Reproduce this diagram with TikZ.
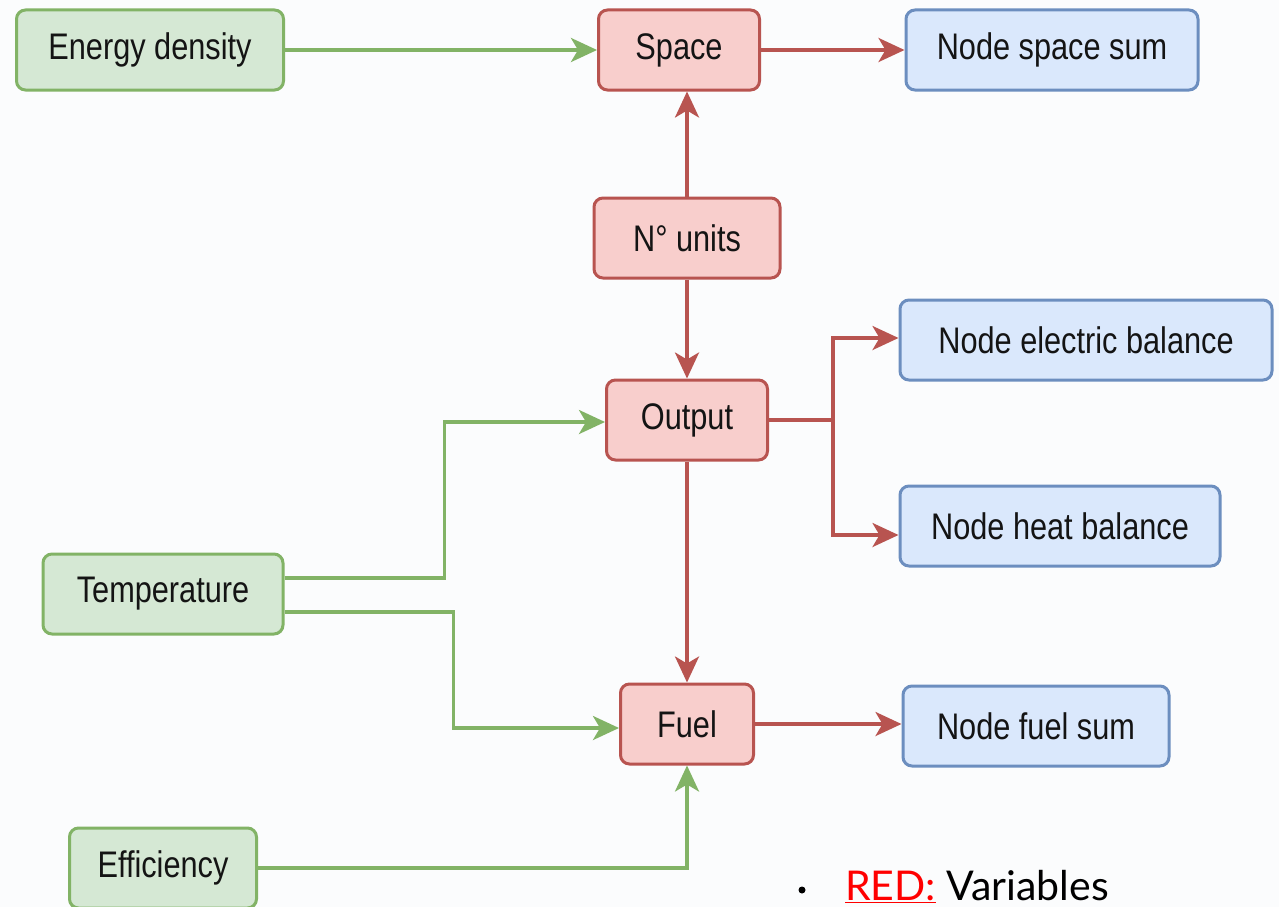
\documentclass[tikz,border=0pt]{standalone}
\usepackage{fontspec}
\setmainfont{Liberation Sans}
\newfontfamily\boxfont[FakeStretch=0.83]{Liberation Sans}
\newfontfamily\legfont{Lato}
\usetikzlibrary{arrows.meta}
\definecolor{gfill}{HTML}{D5E8D4}
\definecolor{gstroke}{HTML}{82B366}
\definecolor{rfill}{HTML}{F8CECC}
\definecolor{rstroke}{HTML}{B85450}
\definecolor{bfill}{HTML}{DAE8FC}
\definecolor{bstroke}{HTML}{6C8EBF}
\definecolor{redtxt}{HTML}{FF0000}
\definecolor{bg}{HTML}{FBFCFD}
\begin{document}
\begin{tikzpicture}[x=1pt,y=-1pt,
  box/.style={rounded corners=9pt, line width=3pt, inner sep=0pt,
    font=\boxfont\fontsize{37}{37}\selectfont, text=black!92, minimum height=80pt},
  gbox/.style={box, draw=gstroke, fill=gfill},
  rbox/.style={box, draw=rstroke, fill=rfill},
  bbox/.style={box, draw=bstroke, fill=bfill},
  tip/.style={-{Stealth[length=26pt,width=24pt,inset=7pt]}},
  garr/.style={draw=gstroke, line width=3.5pt, tip},
  rarr/.style={draw=rstroke, line width=3.5pt, tip},
]
\useasboundingbox[fill=bg] (0,0) rectangle (1279,907);

% input (green) nodes
\node[gbox, minimum width=267pt] (ed) at (150,50) {Energy density};
\node[gbox, minimum width=240pt] (tp) at (163,594) {Temperature};
\node[gbox, minimum width=187pt] (ef) at (163,868) {Efficiency};

% variable (red) nodes
\node[rbox, minimum width=161pt] (sp) at (679,50) {Space};
\node[rbox, minimum width=186pt] (nu) at (687,238) {N° units};
\node[rbox, minimum width=161pt] (out) at (687,420) {Output};
\node[rbox, minimum width=133pt] (fu) at (687,724) {Fuel};

% constraint (blue) nodes
\node[bbox, minimum width=292pt] (ss) at (1052,50) {Node space sum};
\node[bbox, minimum width=372pt] (eb) at (1086,340) {Node electric balance};
\node[bbox, minimum width=320pt] (hb) at (1060,526) {Node heat balance};
\node[bbox, minimum width=266pt] (fs) at (1036,726) {Node fuel sum};

% connectors
\draw[garr] (ed.east) -- (sp.west);
\draw[rarr] (sp.east) -- (ss.west);
\draw[rarr] (nu.north) -- (nu.north |- sp.south);
\draw[rarr] (nu.south) -- (out.north);
\draw[rarr] (out.east) -- ++(64,0) |- ([yshift=2pt]eb.west);
\draw[rarr] (out.east) -- ++(64,0) |- ([yshift=-9pt]hb.west);
\draw[rarr] (out.south) -- (fu.north);
\draw[rarr] (fu.east) -- (fu.east -| fs.west);
\draw[garr] ([yshift=16pt]tp.east) -- ++(160,0) |- ([yshift=-2pt]out.west);
\draw[garr] ([yshift=-18pt]tp.east) -- ++(169,0) |- ([yshift=-4pt]fu.west);
\draw[garr] (ef.east) -| (fu.south);

% legend
\fill[black] (802,890) circle (3.5pt);
\node[anchor=base west, inner sep=0pt, font=\legfont\fontsize{41}{41}\selectfont] (leg) at (845,900)
  {\textcolor{redtxt}{\underline{RED:}} Variables};
\end{tikzpicture}
\end{document}
